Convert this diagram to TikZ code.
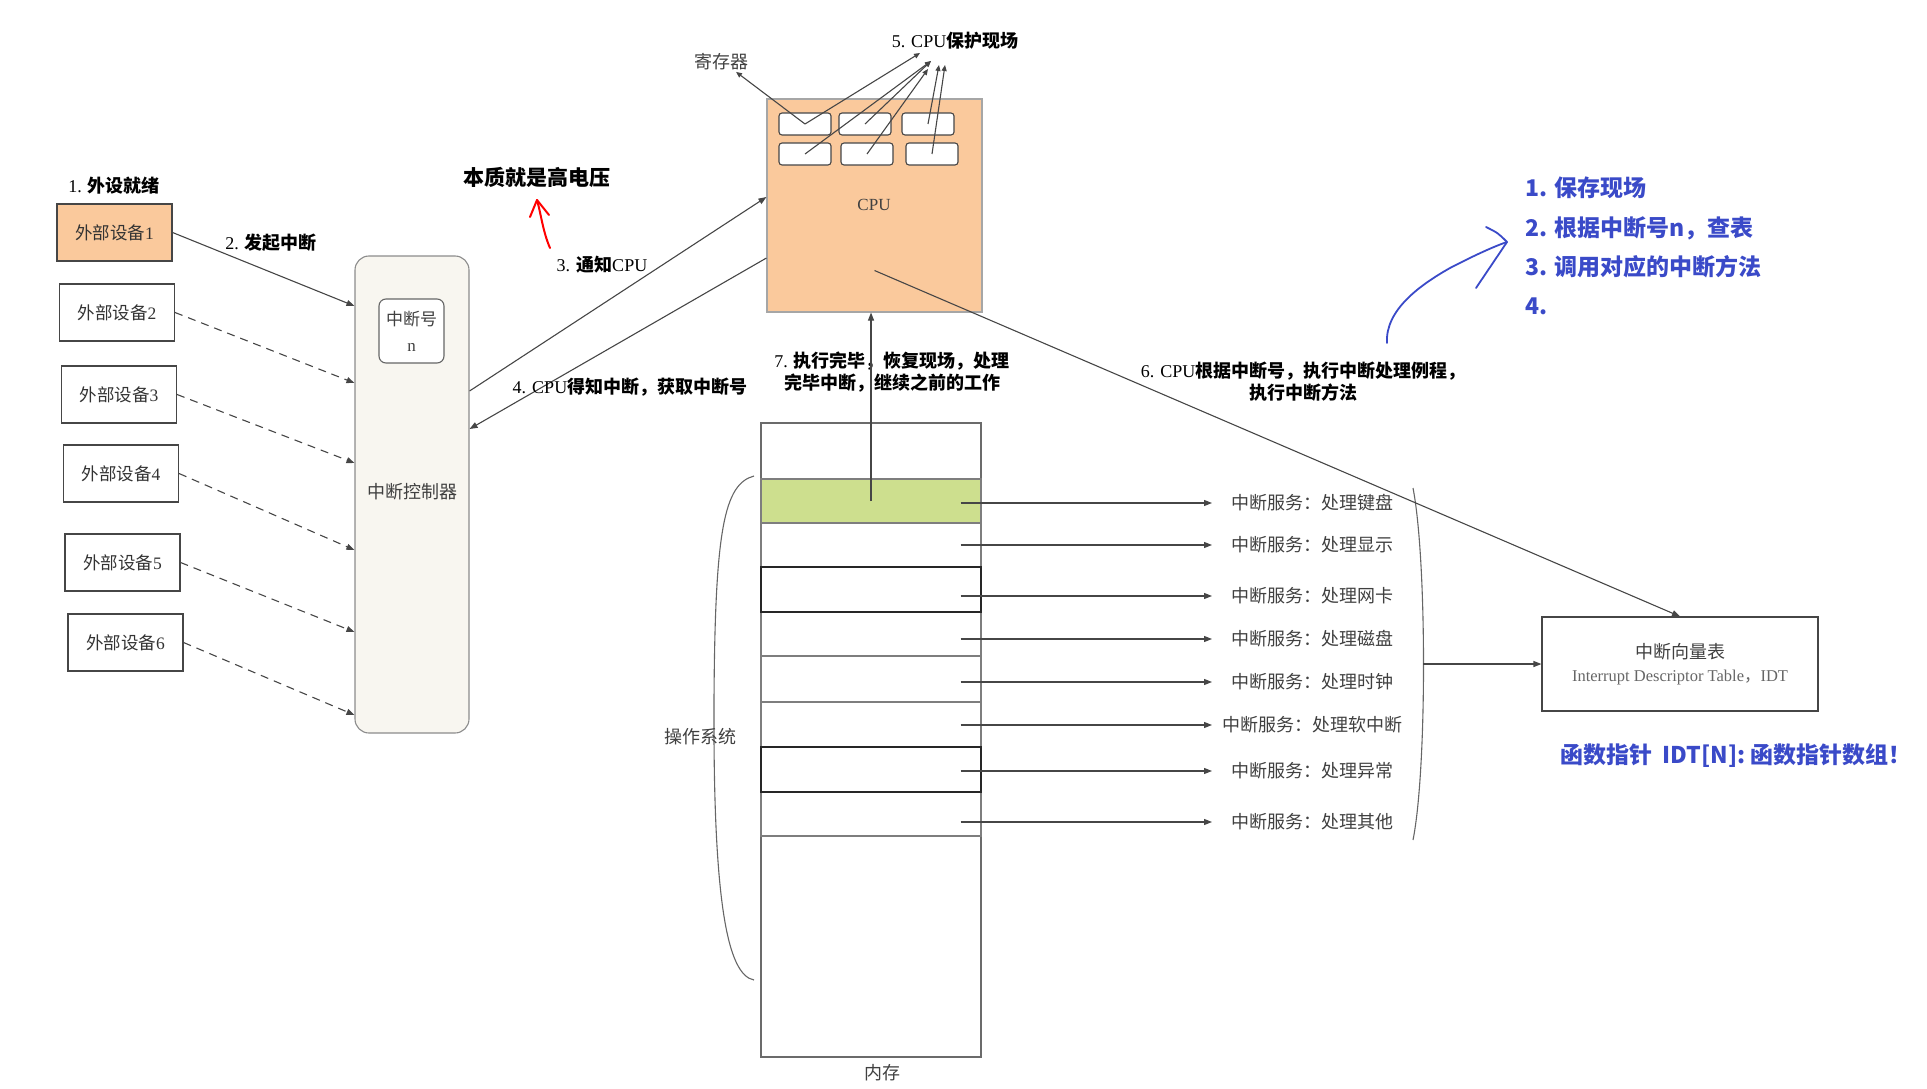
\documentclass[tikz,border=0pt]{standalone}
\usepackage{fontspec}
\setmainfont{Liberation Serif}
\newfontfamily\cjk{Noto Sans CJK SC}
\usetikzlibrary{arrows.meta}

\newcommand{\zhtxt}[1]{{\cjk #1}}
\newcommand{\zhb}[1]{{\cjk\bfseries #1}}

\definecolor{devorange}{RGB}{250,201,156}
\definecolor{ctrlcream}{RGB}{248,246,240}
\definecolor{slotgreen}{RGB}{205,223,142}
\definecolor{penblue}{RGB}{58,74,200}
\definecolor{linegray}{RGB}{70,70,70}

\tikzset{
  devbox/.style={draw=linegray, minimum width=115pt, minimum height=57pt, inner sep=0pt,
    font=\fontsize{17.5}{20}\selectfont, text=black!80},
  tagtxt/.style={font=\fontsize{18}{22}\selectfont, align=center, inner sep=1pt},
  plaintxt/.style={font=\fontsize{18}{22}\selectfont, text=black!75, align=center, inner sep=1pt},
  regbox/.style={draw=linegray, fill=white, rounded corners=3pt, minimum width=52pt,
    minimum height=22pt, inner sep=0pt},
  slotbox/.style={draw=linegray!70, minimum width=220pt, inner sep=0pt},
  arr/.style={draw=linegray, -{Triangle[length=8pt,width=6pt]}},
  smallarr/.style={draw=linegray, -{Triangle[length=6pt,width=5pt]}},
  dasharr/.style={arr, dashed, dash pattern=on 8pt off 6pt},
  bluetxt/.style={font=\fontsize{23}{26}\selectfont, text=penblue, anchor=west, inner sep=0pt},
  scribble/.style={line width=2pt, line cap=round, line join=round},
}

\begin{document}
\begin{tikzpicture}[x=1pt, y=-1pt, line width=1.1pt]
  \useasboundingbox (0,0) rectangle (1927,1089);

  % --- external devices ---
  \node[tagtxt] (ready) at (114,186) {1. \zhb{外设就绪}};
  \node[devbox, fill=devorange] (d1) at (114.5,232.5) {\zhtxt{外部设备}1};
  \node[devbox] (d2) at (117,312.5) {\zhtxt{外部设备}2};
  \node[devbox] (d3) at (119,394.5) {\zhtxt{外部设备}3};
  \node[devbox] (d4) at (121,473.5) {\zhtxt{外部设备}4};
  \node[devbox] (d5) at (122.5,562.5) {\zhtxt{外部设备}5};
  \node[devbox] (d6) at (125.5,642.5) {\zhtxt{外部设备}6};

  % --- interrupt controller ---
  \node[draw=black!45, fill=ctrlcream, rounded corners=14pt, minimum width=114pt,
    minimum height=477pt] (ctrl) at (412,494.5) {};
  \node[plaintxt] (ctrltxt) at (412,492) {\zhtxt{中断控制器}};
  \node[draw=black!60, fill=white, rounded corners=7pt, minimum width=65pt, minimum height=64pt,
    plaintxt, font=\fontsize{17}{26}\selectfont] (irqno) at (411.5,331) {\zhtxt{中断号}\\n};

  \draw[arr] (d1.east) -- (ctrl.west |- 0,306);
  \foreach \i/\y in {2/383,3/463,4/550,5/632,6/715}
    \draw[dasharr] (d\i.east) -- (ctrl.west |- 0,\y);
  \node[tagtxt] (raise) at (271,243) {2. \zhb{发起中断}};

  % --- CPU ---
  \node[draw=black!35, fill=devorange, minimum width=215pt, minimum height=213pt,
    inner sep=0pt] (cpu) at (874.5,205.5) {};
  \node[font=\fontsize{17}{20}\selectfont, text=black!75] (cputxt) at (874,205) {CPU};
  \foreach \r/\y/\s in {1/124/0,2/154/2}
    \foreach \c/\x in {1/805,2/865,3/928}
      \node[regbox] (r\r\c) at (\x+\s*\c-\s,\y) {};

  \node[tagtxt] (save) at (955,41) {5. CPU\zhb{保护现场}};
  \node[plaintxt] (regs) at (721,62) {\zhtxt{寄存器}};
  \coordinate (k1) at (920,53);
  \coordinate (k2) at (931,61);
  \coordinate (k3) at (928,69);
  \coordinate (k4) at (939,65);
  \coordinate (k5) at (945,65);
  \draw[smallarr] (r11.center) -- ([xshift=15pt]regs.south);
  \draw[smallarr] (r11.center) -- (k1);
  \draw[smallarr] (r21.center) -- (k2);
  \draw[smallarr] (r12.center) -- (k2);
  \draw[smallarr] (r22.center) -- (k3);
  \draw[smallarr] (r13.center) -- (k4);
  \draw[smallarr] (r23.center) -- (k5);

  % --- notify / answer ---
  \node[font=\fontsize{21}{24}\selectfont] (volt) at (537,177) {\zhb{本质就是高电压}};
  \coordinate (redtail) at (550,248);
  \draw[red, scribble] (redtail) .. controls (543,232) and (541,214) .. ([yshift=-23pt]volt.center);
  \draw[red, scribble] (530,217) -- ([yshift=-23pt]volt.center) -- (549,215);

  \node[tagtxt] (notify) at (602,265) {3. \zhb{通知}CPU};
  \draw[arr] (ctrl.east |- 0,391) -- (cpu.west |- 0,197);
  \draw[arr] (cpu.west |- 0,258) -- (ctrl.east |- 0,429);
  \node[tagtxt] (learn) at (630,387) {4. CPU\zhb{得知中断，获取中断号}};

  % --- memory ---
  \node[draw=linegray!80, minimum width=220pt, minimum height=634pt, inner sep=0pt] (mem) at (871,740) {};
  \node[plaintxt] (memtxt) at (882,1073) {\zhtxt{内存}};
  \node[slotbox, fill=slotgreen, minimum height=44pt] (slot1) at (871,501) {};
  \foreach \i/\y/\h in {2/545/44,4/634/44,5/679/46,6/724.5/45,8/814/44}
    \node[slotbox, minimum height=\h pt] (slot\i) at (871,\y) {};
  \foreach \i/\y in {3/589.5,7/769.5}
    \node[slotbox, draw=black!85, minimum height=45pt] (slot\i) at (871,\y) {};

  \node[tagtxt] (resume) at (892,372) {7. \zhb{执行完毕，恢复现场，处理}\\\zhb{完毕中断，继续之前的工作}};
  \draw[arr] (slot1.center) -- (slot1.center |- cpu.south);

  % operating system brace
  \draw[black!60] (754,476) .. controls (724,484) and (715,530) .. (714,700)
    .. controls (713,900) and (727,975) .. (754,980);
  \node[plaintxt] (ostxt) at (700,737) {\zhtxt{操作系统}};

  % --- interrupt services ---
  \coordinate (mcut) at ([xshift=-21pt]mem.east);
  \coordinate (tipx) at (1212,0);
  \foreach \i/\y/\t in {1/503/处理键盘,2/545/处理显示,3/596/处理网卡,4/639/处理磁盘,
      5/682/处理时钟,6/725/处理软中断,7/771/处理异常,8/822/处理其他} {
    \node[plaintxt] (svc\i) at (1312,\y) {\zhtxt{中断服务：\t}};
    \draw[arr] (svc\i -| mcut) -- (svc\i -| tipx);
  }
  \draw[black!60] (1413,488) .. controls (1427,560) and (1427,770) .. (1413,840);
  \coordinate (brk) at (1423,664);

  % --- IDT ---
  \node[draw=linegray, minimum width=276pt, minimum height=94pt, align=center,
    font=\fontsize{18}{23}\selectfont, text=black!75] (idt) at (1680,664)
    {\zhtxt{中断向量表}\\{\fontsize{16.5}{20}\selectfont\color{black!60}Interrupt Descriptor Table\zhtxt{，}IDT}};
  \draw[arr] (brk) -- (idt.west |- brk);
  \draw[arr] ([yshift=-65pt]cpu.center) -- (idt.north);
  \node[tagtxt] (lookup) at (1303,382) {6. CPU\zhb{根据中断号，执行中断处理例程，}\\\zhb{执行中断方法}};
  \node[bluetxt, anchor=center] (fptr) at (1736,756) {\zhb{函数指针\ \ IDT[N]: 函数指针数组！}};

  % --- notes ---
  \node[bluetxt] (todo1) at (1525,188) {\zhb{1. 保存现场}};
  \node[bluetxt] (todo2) at (1525,228) {\zhb{2. 根据中断号n，查表}};
  \node[bluetxt] (todo3) at (1525,267) {\zhb{3. 调用对应的中断方法}};
  \node[bluetxt] (todo4) at (1525,306) {\zhb{4.}};
  \coordinate (bluetail) at (1387,343);
  \coordinate (bluetip) at (1507,242);
  \draw[penblue, scribble, line width=1.8pt] (bluetail) .. controls (1385,310) and (1420,285) .. (1450,268)
    .. controls (1475,255) and (1495,246) .. (bluetip);
  \draw[penblue, scribble, line width=1.8pt] (1486,227) .. controls (1498,233) .. (bluetip) -- (1476,288);
\end{tikzpicture}
\end{document}
